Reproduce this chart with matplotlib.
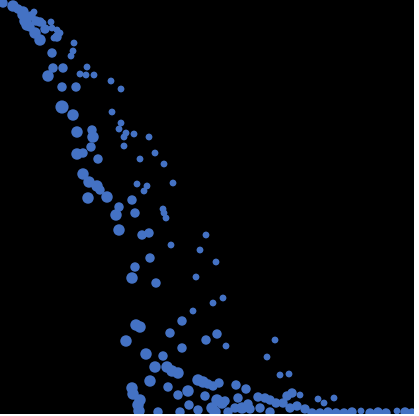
import matplotlib
matplotlib.use('Agg')
import matplotlib.pyplot as plt
import numpy as np

# Dữ liệu (x, y, trọng số bong bóng)
x = [3, 13, 18, 23, 22, 27, 34, 27, 30, 35, 40, 40, 43, 51, 52, 57, 60, 57, 54, 74,
     52, 73, 71, 53, 48, 63, 87, 80, 86, 94, 111, 121, 62, 76, 62, 73, 112, 121, 119, 126,
     124, 134, 149, 92, 93, 77, 124, 91, 77, 83, 155, 98, 140, 164, 83, 89, 97, 100, 173, 137,
     147, 144, 88, 107, 132, 119, 163, 116, 135, 164, 166, 119, 142, 149, 206, 171, 200, 216, 150, 135,
     132, 156, 196, 223, 213, 193, 182, 136, 140, 170, 217, 126, 206, 226, 275, 182, 267, 146, 163, 155,
     167, 172, 178, 198, 203, 208, 213, 219, 150, 168, 280, 289, 236, 246, 132, 133, 188, 178, 205, 140,
     138, 139, 189, 158, 217, 222, 212, 215, 225, 238, 242, 250, 260, 258, 265, 270, 287, 292, 283, 300,
     318, 324, 334, 228, 235, 248, 276, 290, 297, 305, 270, 198, 180, 31, 36, 25, 45,
     312, 320, 328, 336, 344, 352, 361, 370, 378, 386, 397, 405, 412]
y = [411, 408, 405, 402, 399, 396, 402, 389, 387, 381, 374, 392, 391, 392, 386, 384, 381, 377, 376, 371,
     361, 363, 358, 346, 338, 346, 347, 340, 339, 339, 333, 325, 327, 327, 307, 299, 302, 291, 285, 281,
     277, 280, 277, 284, 277, 282, 268, 267, 260, 261, 261, 255, 255, 250, 240, 232, 228, 224, 231, 230,
     228, 223, 216, 217, 214, 207, 205, 199, 201, 201, 196, 184, 179, 181, 179, 169, 164, 152, 156, 147,
     136, 131, 137, 116, 111, 103, 93, 89, 87, 81, 80, 73, 74, 68, 74, 66, 57, 60, 58, 47,
     47, 43, 41, 34, 32, 30, 28, 31, 33, 27, 39, 40, 29, 25, 26, 20, 23, 19, 18, 14,
     9, 3, 9, 2, 14, 11, 6, 2, 13, 16, 6, 5, 6, 17, 16, 14, 18, 21, 11, 19,
     15, 11, 16, 2, 6, 10, 11, 6, 8, 5, 2, 4, 2, 398, 393, 393, 385,
     1, 1, 2, 1, 1, 2, 3, 1, 2, 1, 3, 2, 1]
z = [2, 3, 2, 3, 2, 2, 1, 3, 2, 3, 3, 2, 1, 1, 1, 1, 1, 2, 1, 1,
     2, 1, 1, 2, 3, 2, 1, 1, 1, 1, 1, 1, 2, 2, 4, 3, 1, 1, 1, 1,
     1, 1, 1, 2, 3, 3, 1, 2, 3, 2, 1, 2, 1, 1, 3, 3, 3, 2, 1, 1,
     1, 1, 3, 3, 2, 2, 1, 3, 2, 1, 1, 3, 2, 2, 1, 1, 1, 1, 2, 2,
     3, 2, 1, 1, 1, 1, 2, 3, 3, 2, 2, 3, 2, 1, 1, 2, 1, 3, 2, 3,
     3, 3, 3, 3, 3, 2, 2, 2, 3, 2, 1, 1, 2, 2, 3, 3, 3, 2, 2, 3,
     3, 3, 2, 2, 3, 3, 3, 3, 2, 2, 3, 2, 2, 2, 2, 2, 2, 2, 2, 1,
     1, 1, 1, 2, 2, 2, 2, 2, 2, 2, 2, 2, 2, 2, 2, 3, 2,
     2, 2, 2, 2, 2, 2, 1, 2, 2, 2, 1, 2, 2]

fig = plt.figure(figsize=(4.19, 4.16), dpi=100, facecolor='white')
ax = fig.add_axes([0, 2 / 416, 414 / 419, 414 / 416])
ax.set_facecolor('black')

sizes = 22 * np.array(z) + 2
ax.scatter(x, y, s=sizes, color='#4472C4', linewidths=0)

ax.set_xlim(0, 414)
ax.set_ylim(0, 414)
ax.set_xticks([])
ax.set_yticks([])
for spine in ax.spines.values():
    spine.set_visible(False)

fig.savefig('out.png', dpi=100, facecolor='white')
